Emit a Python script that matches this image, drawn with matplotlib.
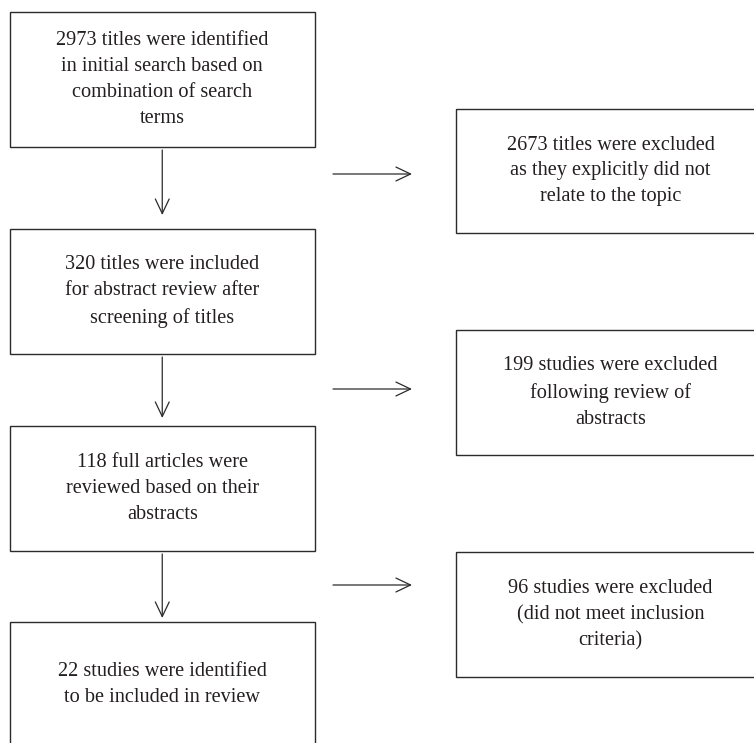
import matplotlib
matplotlib.use('Agg')

from matplotlib import pyplot as plt
from matplotlib.patches import Rectangle, FancyArrowPatch

# Textos das caixas (fluxo principal e exclusoes)
main_steps = [
    '2973 titles were identified\nin initial search based on\ncombination of search\nterms',
    '320 titles were included\nfor abstract review after\nscreening of titles',
    '118 full articles were\nreviewed based on their\nabstracts',
    '22 studies were identified\nto be included in review',
]
excluded_steps = [
    '2673 titles were excluded\nas they explicitly did not\nrelate to the topic',
    '199 studies were excluded\nfollowing review of\nabstracts',
    '96 studies were excluded\n(did not meet inclusion\ncriteria)',
]

# Layout (pixels, y para baixo)
left_x0, left_x1 = 9.5, 315
main_y = [(12, 147), (229, 354), (426, 551), (622, 746)]
right_x0, right_x1 = 456, 765
excl_y = [(109, 233), (330, 455), (552, 677)]
down_arrows = [(150, 215), (357, 418), (554, 618)]
right_arrow_y = [174, 389, 585]
arrow_x0, arrow_x1 = 333, 412

line_col = '#2b2b2b'
text_col = '#231f20'
fonte = 'Liberation Serif'

fig = plt.figure(figsize=(7.54, 7.43), dpi=100)
ax = fig.add_axes([0, 0, 1, 1])
ax.set_xlim(0, 754)
ax.set_ylim(743, 0)
ax.axis('off')


def caixa(x0, x1, y0, y1, txt):
    ax.add_patch(Rectangle((x0, y0), x1 - x0, y1 - y0, fill=False,
                           edgecolor=line_col, lw=1.0))
    ax.text((x0 + x1) / 2, (y0 + y1) / 2, txt, ha='center', va='center',
            fontsize=14.6, family=fonte, color=text_col, linespacing=1.5)


def seta(p0, p1):
    ax.add_patch(FancyArrowPatch(p0, p1, arrowstyle='->,head_length=10.5,head_width=5',
                                 mutation_scale=1, lw=0.9, color=line_col,
                                 shrinkA=0, shrinkB=0))


for txt, (y0, y1) in zip(main_steps, main_y):
    caixa(left_x0, left_x1, y0, y1, txt)

for txt, (y0, y1) in zip(excluded_steps, excl_y):
    caixa(right_x0, right_x1, y0, y1, txt)

cx = (left_x0 + left_x1) / 2
for y0, y1 in down_arrows:
    seta((cx, y0), (cx, y1))

for y in right_arrow_y:
    seta((arrow_x0, y), (arrow_x1, y))

fig.savefig('out.png', dpi=100)
